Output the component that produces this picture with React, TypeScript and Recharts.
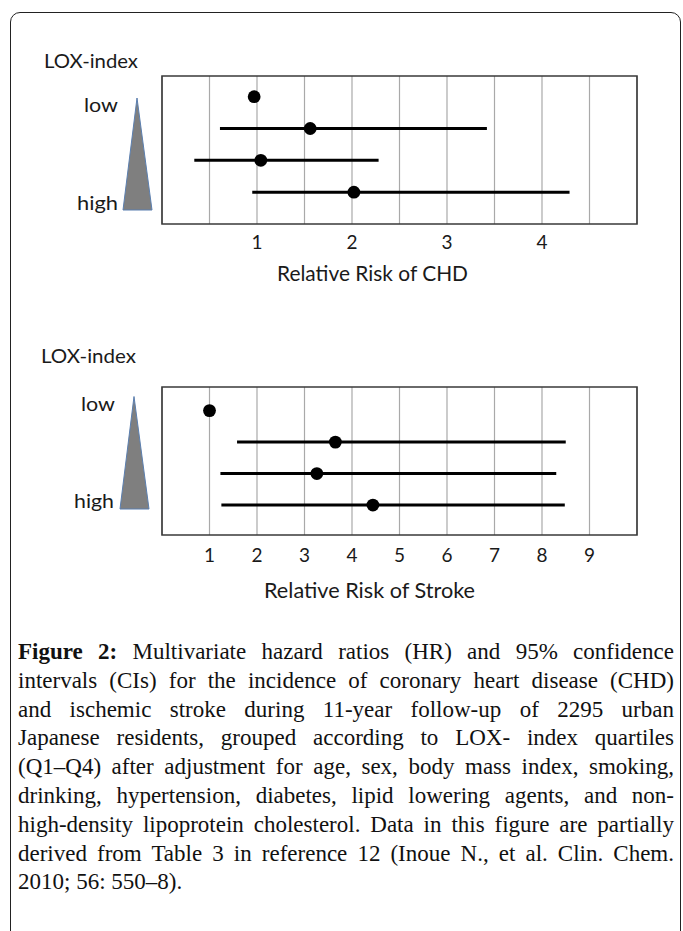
import React from "react";
import {
  CartesianGrid,
  ErrorBar,
  ReferenceArea,
  Scatter,
  ScatterChart,
  XAxis,
  YAxis,
} from "recharts";

// LOX-index quartiles, drawn top (low) to bottom (high)
const QUARTILES = ["Q1", "Q2", "Q3", "Q4"];
const ROW_POS = [1, 2, 3, 4];

// Coronary heart disease: hazard ratio and 95% CI
const CHD_HR = [0.97, 1.56, 1.04, 2.02];
const CHD_CI_LOW = [0.97, 0.61, 0.34, 0.95];
const CHD_CI_HIGH = [0.97, 3.42, 2.28, 4.29];

// Ischemic stroke: hazard ratio and 95% CI
const STROKE_HR = [1.0, 3.65, 3.26, 4.44];
const STROKE_CI_LOW = [1.0, 1.58, 1.23, 1.25];
const STROKE_CI_HIGH = [1.0, 8.5, 8.3, 8.48];

const CHD_GRID_TICKS = [0, 0.5, 1, 1.5, 2, 2.5, 3, 3.5, 4, 4.5, 5];
const CHD_TICK_LABELS = [1, 2, 3, 4];
const STROKE_GRID_TICKS = [0, 1, 2, 3, 4, 5, 6, 7, 8, 9, 10];
const STROKE_TICK_LABELS = [1, 2, 3, 4, 5, 6, 7, 8, 9];

const CAPTION_LINES = [
  "Multivariate hazard ratios (HR) and 95% confidence",
  "intervals (CIs) for the incidence of coronary heart disease (CHD)",
  "and ischemic stroke during 11-year follow-up of 2295 urban",
  "Japanese residents, grouped according to LOX- index quartiles",
  "(Q1–Q4) after adjustment for age, sex, body mass index, smoking,",
  "drinking, hypertension, diabetes, lipid lowering agents, and non-",
  "high-density lipoprotein cholesterol. Data in this figure are partially",
  "derived from Table 3 in reference 12 (Inoue N., et al. Clin. Chem.",
  "2010; 56: 550–8).",
];

const SANS = "Lato, 'Open Sans', sans-serif";
const SERIF = "'Liberation Serif', 'DejaVu Serif', serif";

interface PanelProps {
  hr: number[];
  low: number[];
  high: number[];
  gridTicks: number[];
  labels: number[];
  yDomain: [number, number];
  tickMargin: number;
}

function HrDot(props: { cx?: number; cy?: number }) {
  if (props.cx == null || props.cy == null) return null;
  return <circle cx={props.cx} cy={props.cy} r={6.4} fill="#000" />;
}

function ForestPanel({ hr, low, high, gridTicks, labels, yDomain, tickMargin }: PanelProps) {
  const data = ROW_POS.map((y, i) => ({
    q: QUARTILES[i],
    x: hr[i],
    y,
    ci: [hr[i] - low[i], high[i] - hr[i]],
  }));
  const xMax = gridTicks[gridTicks.length - 1];

  return (
    <ScatterChart width={683} height={264} margin={{ top: 76, right: 46, bottom: 10, left: 162 }}>
      <CartesianGrid horizontal={false} stroke="#a9a9a9" strokeWidth={1.2} />
      <XAxis
        type="number"
        dataKey="x"
        domain={[0, xMax]}
        ticks={gridTicks}
        interval={0}
        axisLine={false}
        tickLine={false}
        height={30}
        tickMargin={tickMargin}
        tick={{ fontSize: 19, fill: "#1a1a1a", fontFamily: SANS }}
        tickFormatter={(v: number) => (labels.includes(v) ? String(v) : "")}
        allowDataOverflow
      />
      <YAxis type="number" dataKey="y" domain={yDomain} reversed hide allowDataOverflow />
      <ReferenceArea
        x1={0}
        x2={xMax}
        y1={yDomain[0]}
        y2={yDomain[1]}
        fill="none"
        stroke="#3a3a3a"
        strokeWidth={1.6}
      />
      <Scatter data={data} fill="#000" shape={HrDot} isAnimationActive={false}>
        <ErrorBar dataKey="ci" direction="x" width={0} stroke="#000" strokeWidth={3} isAnimationActive={false} />
      </Scatter>
    </ScatterChart>
  );
}

export default function App() {
  return (
    <div
      style={{
        position: "absolute",
        left: 0,
        top: 0,
        width: 683,
        height: 931,
        overflow: "hidden",
        background: "#fff",
      }}
    >
      <div
        style={{
          position: "absolute",
          left: 10,
          top: 12,
          width: 669,
          height: 1000,
          border: "1.4px solid #222",
          borderRadius: 10,
        }}
      />

      <div style={{ position: "absolute", left: 0, top: 0 }}>
        <ForestPanel
          hr={CHD_HR}
          low={CHD_CI_LOW}
          high={CHD_CI_HIGH}
          gridTicks={CHD_GRID_TICKS}
          labels={CHD_TICK_LABELS}
          yDomain={[0.35, 5]}
          tickMargin={6}
        />
      </div>
      <div style={{ position: "absolute", left: 0, top: 311 }}>
        <ForestPanel
          hr={STROKE_HR}
          low={STROKE_CI_LOW}
          high={STROKE_CI_HIGH}
          gridTicks={STROKE_GRID_TICKS}
          labels={STROKE_TICK_LABELS}
          yDomain={[0.25, 4.95]}
          tickMargin={8}
        />
      </div>

      <svg
        width={683}
        height={620}
        style={{ position: "absolute", left: 0, top: 0, pointerEvents: "none" }}
      >
        <g fontFamily={SANS} fill="#1a1a1a">
          <text x={44} y={68} fontSize={19} textLength={94} lengthAdjust="spacingAndGlyphs">
            LOX-index
          </text>
          <text x={84} y={112} fontSize={20} textLength={34} lengthAdjust="spacingAndGlyphs">
            low
          </text>
          <text x={77} y={210} fontSize={20} textLength={41} lengthAdjust="spacingAndGlyphs">
            high
          </text>
          <polygon points="137,98 152,210 123,210" fill="#7f7f7f" stroke="#5b7fb0" strokeWidth={1} />
        </g>
        <g transform="translate(-3, 298)" fontFamily={SANS} fill="#1a1a1a">
          <text x={44} y={65} fontSize={19} textLength={95} lengthAdjust="spacingAndGlyphs">
            LOX-index
          </text>
          <text x={84} y={112.5} fontSize={20} textLength={34} lengthAdjust="spacingAndGlyphs">
            low
          </text>
          <text x={77} y={210} fontSize={20} textLength={40} lengthAdjust="spacingAndGlyphs">
            high
          </text>
          <polygon points="137,98.5 152,211 123,211" fill="#7f7f7f" stroke="#5b7fb0" strokeWidth={1} />
        </g>
        <text x={277} y={281} fontFamily={SANS} fontSize={21} fill="#1a1a1a" textLength={191} lengthAdjust="spacingAndGlyphs">
          Relative Risk of CHD
        </text>
        <text x={264} y={598} fontFamily={SANS} fontSize={21} fill="#1a1a1a" textLength={211} lengthAdjust="spacingAndGlyphs">
          Relative Risk of Stroke
        </text>
      </svg>

      <div
        style={{
          position: "absolute",
          left: 18,
          top: 638,
          width: 656,
          fontFamily: SERIF,
          fontSize: 23,
          color: "#111",
        }}
      >
        {CAPTION_LINES.map((line, i) => {
          const last = i === CAPTION_LINES.length - 1;
          return (
            <div
              key={i}
              style={{
                height: 28.8,
                lineHeight: "28.8px",
                textAlign: last ? "left" : "justify",
                textAlignLast: last ? "left" : "justify",
              }}
            >
              {i === 0 ? <b>Figure 2: </b> : null}
              {line}
            </div>
          );
        })}
      </div>
    </div>
  );
}
